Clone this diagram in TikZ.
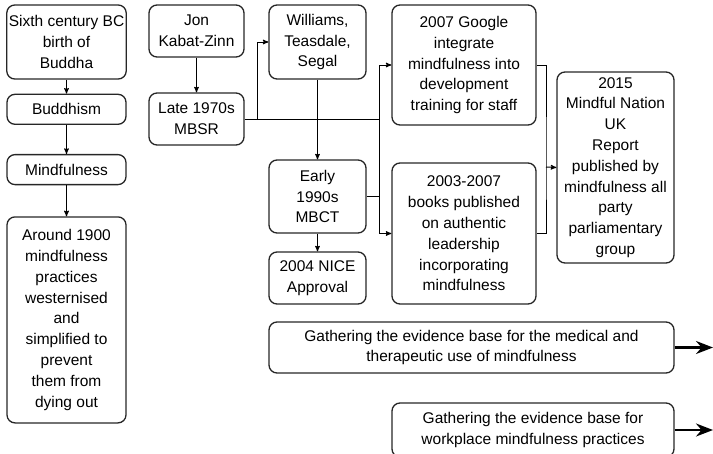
\documentclass[tikz,border=0pt]{standalone}
\usepackage{fontspec}
\setmainfont{Liberation Sans}
\usepackage{tikz}
\usetikzlibrary{arrows,arrows.meta,positioning}
\tikzset{
    event/.style={
           rectangle,
           rounded corners=8pt,
           draw=black!85,
           line width=1.3pt,
           inner sep=2pt,
           align=center,
           font=\fontsize{15.5}{20.8}\selectfont,
           },
}

\begin{document}
\begin{tikzpicture}[
  x=1pt,y=-1pt,
  ->,>=stealth',
  line width=1pt,
  node distance=14pt,
  bigarrow/.style={line width=2.2pt,-{Stealth[length=17pt,width=13pt]}}]
\useasboundingbox (0,0) rectangle (713,453);
% left column
\node[event,minimum width=119pt,minimum height=74pt] (sixthcentury) at (66.5,42) {Sixth century BC\\birth of\\Buddha};
\node[event,minimum width=119pt,minimum height=30pt,below=of sixthcentury] (buddhism) {Buddhism};
\node[event,minimum width=119pt,minimum height=30pt,below=29pt of buddhism] (mindfulness) {Mindfulness};
\node[event,minimum width=119pt,minimum height=206pt,below=31pt of mindfulness] (westernised) {Around 1900\\mindfulness\\practices\\westernised\\and\\simplified to\\prevent\\them from\\dying out};
% MBSR and MBCT
\node[event,minimum width=95pt,minimum height=52pt] (kabatzinn) at (196.5,31) {Jon\\Kabat-Zinn};
\node[event,minimum width=95pt,minimum height=52pt] (mbsr) at (196.5,119) {Late 1970s\\MBSR};
\node[event,minimum width=97pt,minimum height=74pt] (williams) at (317.5,42) {Williams,\\Teasdale,\\Segal};
\node[event,minimum width=97pt,minimum height=73pt] (mbct) at (317.5,196.5) {Early\\1990s\\MBCT};
\node[event,minimum width=97pt,minimum height=52pt] (niceapproval) at (317.5,278) {2004 NICE\\Approval};
% later events
\node[event,minimum width=144pt,minimum height=120pt] (google) at (464,65) {2007 Google\\integrate\\mindfulness into\\development\\training for staff};
\node[event,minimum width=144pt,minimum height=141pt] (leadership) at (464,233.5) {2003-2007\\books published\\on authentic\\leadership\\incorporating\\mindfulness};
\node[event,minimum width=117pt,minimum height=191pt] (mindfulnation) at (615.5,167.5) {2015\\Mindful Nation\\UK\\Report\\published by\\mindfulness all\\party\\parliamentary\\group};
% evidence base
\node[event,minimum width=405pt,minimum height=51pt] (medicalbase) at (471.5,347.5) {Gathering the evidence base for the medical and\\therapeutic use of mindfulness};
\node[event,minimum width=282pt,minimum height=54pt] (workplacebase) at (533,430) {Gathering the evidence base for\\workplace mindfulness practices};

\coordinate (split) at (257,119);
\coordinate (bus) at (379,0);
\coordinate (join) at (546,167);
\coordinate (medicalend) at (713,347.5);
\coordinate (workplaceend) at (713,430);

\path (sixthcentury) edge (buddhism)
      (buddhism) edge (mindfulness)
      (mindfulness) edge (westernised)
      (kabatzinn) edge (mbsr)
      (williams) edge (mbct)
      (mbct) edge (niceapproval);
\draw[-] (mbsr.east) -- (mbsr.east -| bus);
\draw (split) |- (williams.west);
\draw[-] (mbct.east) -- (mbct.east -| bus);
\draw (bus |- leadership.west) |- (google.west);
\draw (bus |- google.west) |- (leadership.west);
\draw[-] (google.east) -| (join) |- (leadership.east);
\draw (join) -- (mindfulnation.west);
\draw[bigarrow] (medicalbase.east) -- (medicalend);
\draw[bigarrow] (workplacebase.east) -- (workplaceend);
\end{tikzpicture}
\end{document}
